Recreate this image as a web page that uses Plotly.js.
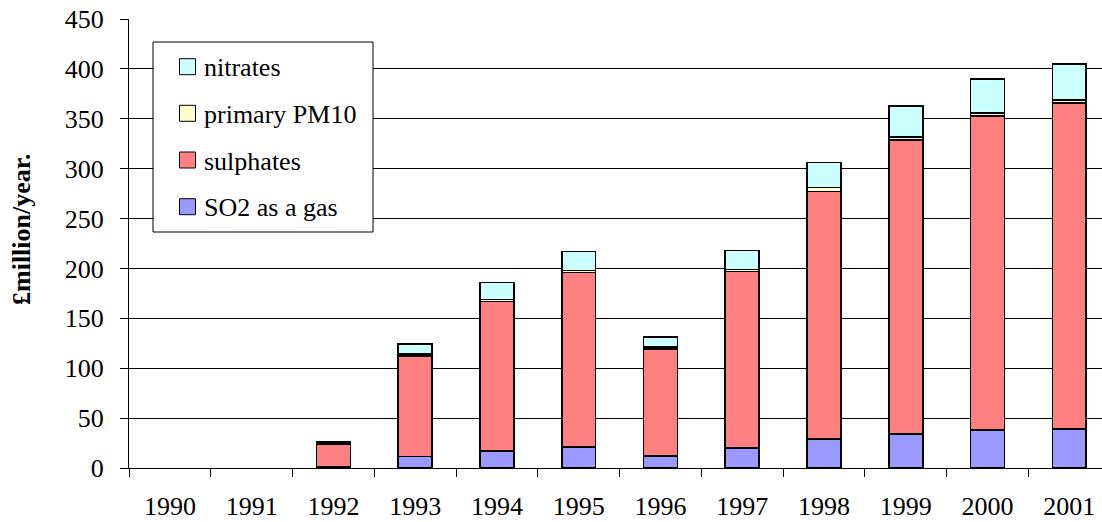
<!DOCTYPE html>
<html>
<head>
<meta charset="utf-8">
<script src="https://cdn.plot.ly/plotly-3.0.1.min.js"></script>
<style>
  html, body { margin: 0; padding: 0; background: #fff; }
  #chart { width: 1102px; height: 522px; }
</style>
</head>
<body>
<div id="chart"></div>
<script>
// Annual damage costs, £million/year, by pollutant component
const years = ['1990', '1991', '1992', '1993', '1994', '1995', '1996', '1997', '1998', '1999', '2000', '2001'];
const so2Gas    = [null, null, 1,   11.5, 17,  21,  12,  20,  29,  34,    38,  39];
const sulphates = [null, null, 23,  100.5, 150, 175, 107, 177, 248, 294.5, 315, 327];
const pm10      = [null, null, 0.5, 2.5,  2,   2,   2,   2,   4,   3.5,   3,   3];
const nitrates  = [null, null, 1.5, 10,   17,  19,  10,  19,  25,  31,    34,  36];

const seriesNames  = ['SO2 as a gas', 'sulphates', 'primary PM10', 'nitrates'];
const seriesColors = ['#9999FF', '#FF8080', '#FFFFCC', '#CCFFFF'];
const seriesValues = [so2Gas, sulphates, pm10, nitrates];

const FONT = '"Liberation Serif", "Times New Roman", serif';
const W = 1102, H = 522;
const M = { l: 129, r: 0, t: 19, b: 54 };
const plotW = W - M.l - M.r, plotH = H - M.t - M.b;
const px = x => (x - M.l) / plotW;          // pixel -> paper x
const py = y => (H - M.b - y) / plotH;      // pixel -> paper y

const traces = seriesNames.map((name, i) => ({
  type: 'bar',
  name: name,
  x: years,
  y: seriesValues[i],
  marker: { color: seriesColors[i], line: { color: '#000', width: 1.6 } },
  showlegend: false,
  hoverinfo: 'x+y+name'
}));

// Legend drawn as a framed box, top entry = top of the stack
const shapes = [{
  type: 'rect', xref: 'paper', yref: 'paper',
  x0: px(153), x1: px(373), y0: py(232), y1: py(42),
  line: { color: '#000', width: 1 }, fillcolor: '#fff', layer: 'above'
}];
const annotations = [];
const rowY = [66.7, 113.3, 160, 206.7];
const order = [3, 2, 1, 0];
order.forEach((si, row) => {
  const cy = rowY[row];
  shapes.push({
    type: 'rect', xref: 'paper', yref: 'paper',
    x0: px(179.5), x1: px(195.5), y0: py(cy + 8), y1: py(cy - 8),
    line: { color: '#000', width: 1 }, fillcolor: seriesColors[si], layer: 'above'
  });
  annotations.push({
    xref: 'paper', yref: 'paper', x: px(202), y: py(cy + 1),
    xanchor: 'left', yanchor: 'middle', showarrow: false,
    text: seriesNames[si], font: { family: FONT, size: 26, color: '#000' }
  });
});

annotations.push({
  xref: 'paper', yref: 'paper', x: px(21), y: py(230),
  xanchor: 'center', yanchor: 'middle', showarrow: false, textangle: -90,
  text: '<b>£million/year.</b>', font: { family: FONT, size: 26, color: '#000' }
});

const layout = {
  width: W, height: H,
  margin: { l: M.l, r: M.r, t: M.t, b: M.b, pad: 0 },
  paper_bgcolor: '#fff', plot_bgcolor: '#fff',
  barmode: 'stack', bargap: 0.585,
  font: { family: FONT, size: 26, color: '#000' },
  xaxis: {
    type: 'category', range: [-0.5, 11.4],
    tickson: 'boundaries', ticks: 'outside', ticklen: 8, tickwidth: 1, tickcolor: '#000',
    showline: true, linecolor: '#000', linewidth: 1,
    showgrid: false, zeroline: false,
    tickfont: { family: FONT, size: 26, color: '#000' },
    ticklabelstandoff: 15, fixedrange: true
  },
  yaxis: {
    range: [0, 450], dtick: 50,
    ticks: 'outside', ticklen: 8, tickwidth: 1, tickcolor: '#000',
    showline: true, linecolor: '#000', linewidth: 1,
    showgrid: true, gridcolor: '#000', gridwidth: 1, zeroline: false,
    tickfont: { family: FONT, size: 26, color: '#000' },
    ticklabelstandoff: 11, fixedrange: true
  },
  shapes: shapes,
  annotations: annotations,
  showlegend: false
};

Plotly.newPlot('chart', traces, layout, { displayModeBar: false, staticPlot: true });
</script>
</body>
</html>
